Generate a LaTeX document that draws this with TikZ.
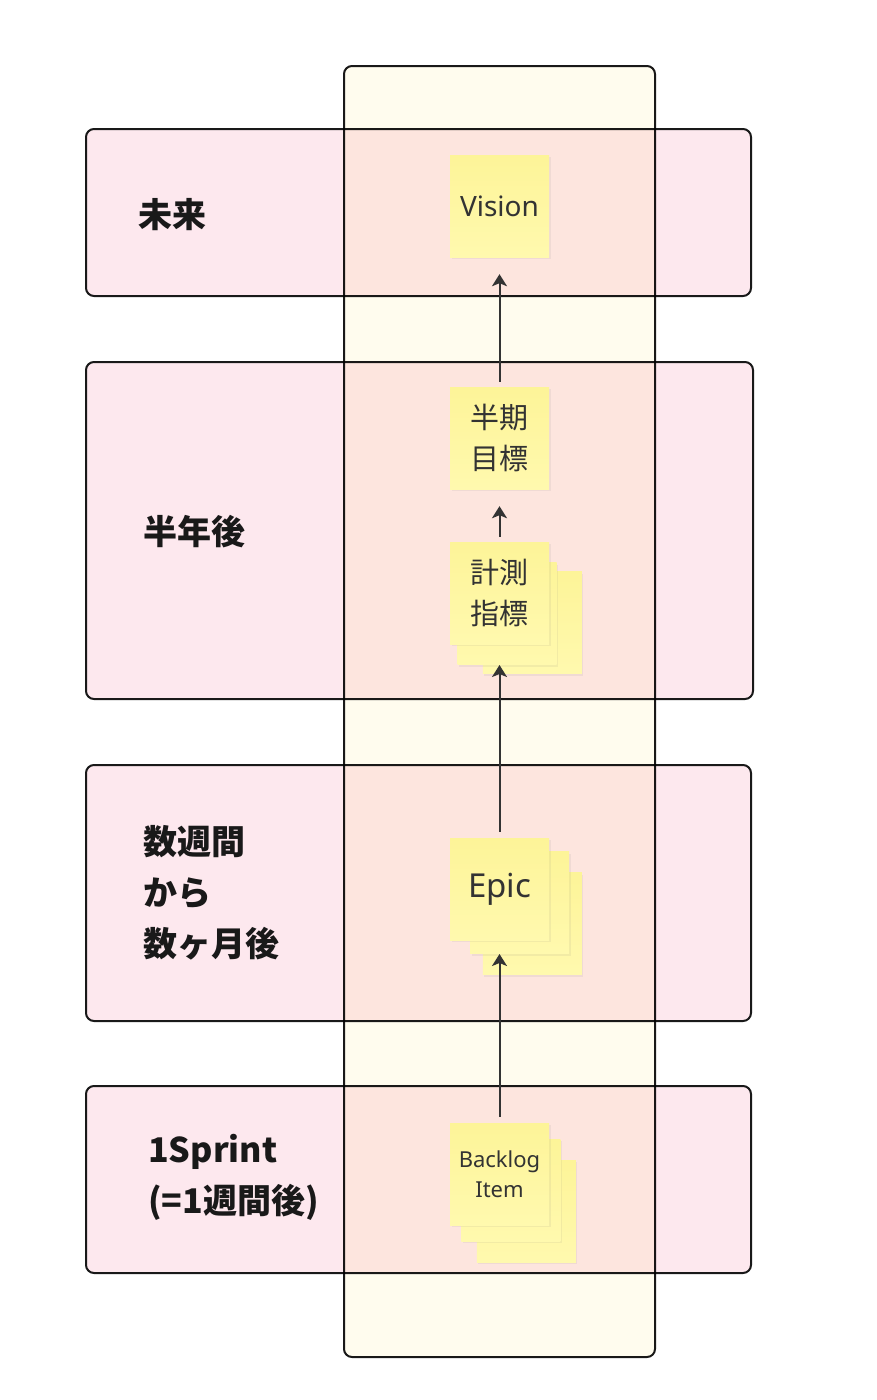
\documentclass[tikz,border=0pt]{standalone}
\usepackage{fontspec}
\usepackage{tikz}
\usetikzlibrary{arrows.meta,shadows}

\newfontfamily\jpfont{Noto Sans CJK JP}
\newfontfamily\latinfont{Noto Sans}

\definecolor{rowpink}{RGB}{253,232,238}
\definecolor{colcream}{RGB}{255,252,238}
\definecolor{stickytop}{RGB}{253,244,152}
\definecolor{stickybot}{RGB}{255,249,174}
\definecolor{inkgray}{RGB}{51,51,51}

\begin{document}
\begin{tikzpicture}[x=1pt, y=-1pt,
    lane/.style={draw=black!90, line width=2pt, rounded corners=8pt, fill=rowpink, inner sep=0pt},
    column/.style={draw=black!90, line width=2pt, rounded corners=8pt, fill=colcream, inner sep=0pt},
    lanelabel/.style={anchor=west, align=left, inner sep=0pt, text=black!90, font=\jpfont\bfseries\fontsize{34}{51}\selectfont},
    sticky/.style={minimum width=99pt, minimum height=102pt, inner sep=0pt, align=center, text=inkgray,
        top color=stickytop, bottom color=stickybot,
        drop shadow={shadow xshift=1.5pt, shadow yshift=-2pt, opacity=0.10}},
    arr/.style={-{Stealth[length=12pt, width=15pt, inset=3pt]}, line width=2pt, draw=inkgray}
]
    \useasboundingbox (0,0) rectangle (877,1400);

    % time lanes
    \node[lane, minimum width=665pt, minimum height=167pt] (future) at (418.5,212.5) {};
    \node[lane, minimum width=667pt, minimum height=337pt] (half) at (419.5,530.5) {};
    \node[lane, minimum width=665pt, minimum height=256pt] (weeks) at (418.5,893) {};
    \node[lane, minimum width=665pt, minimum height=187pt] (sprint) at (418.5,1179.5) {};

    \begin{scope}[blend mode=multiply]
        \node[column, minimum width=311pt, minimum height=1291pt] (col) at (499.5,711.5) {};
    \end{scope}

    \node[lanelabel] (futurelbl) at (138,215) {未来};
    \node[lanelabel] (halflbl) at (143,532) {半年後};
    \node[lanelabel] (weekslbl) at (143,893) {数週間\\から\\数ヶ月後};
    \node[lanelabel] (sprintlbl) at (148,1177) {1Sprint\\(=1週間後)};

    % sticky notes
    \node[sticky, font=\latinfont\fontsize{28}{34}\selectfont] (vis) at (499.5,206) {Vision};
    \node[sticky, font=\jpfont\fontsize{29}{41}\selectfont] (hk) at (499.5,438) {半期\\目標};

    \node[sticky] (msC) at (532.3,622.5) {};
    \node[sticky] (msB) at (507.2,613.8) {};
    \node[sticky, font=\jpfont\fontsize{29}{41}\selectfont] (ms) at (499.5,593) {計測\\指標};

    \node[sticky] (epC) at (532.3,923.8) {};
    \node[sticky] (epB) at (519.5,902.8) {};
    \node[sticky, font=\latinfont\fontsize{33}{40}\selectfont] (ep) at (499.5,889) {Epic};

    \node[sticky] (blC) at (526.3,1211) {};
    \node[sticky] (blB) at (510.8,1190) {};
    \node[sticky, font=\latinfont\fontsize{22}{30}\selectfont] (bl) at (499.5,1174) {Backlog\\Item};

    % arrows
    \draw[arr, shorten <=6pt] (bl.north) -- (bl.north |- epB.south);
    \draw[arr, shorten <=6pt] (ep.north) -- (ep.north |- msB.south);
    \draw[arr, shorten <=5pt, shorten >=17pt] (ms.north) -- (hk.south);
    \draw[arr, shorten <=5pt, shorten >=17pt] (hk.north) -- (vis.south);
\end{tikzpicture}
\end{document}
